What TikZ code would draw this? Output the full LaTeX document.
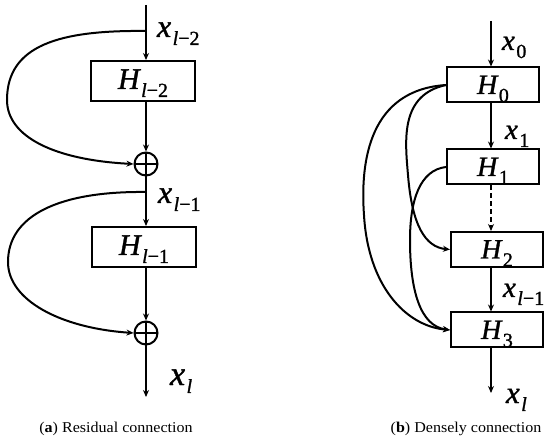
\documentclass[tikz,border=0pt]{standalone}
\usepackage{fontspec}
\setmainfont{Liberation Serif}
\newfontfamily\symfont{Liberation Serif}[FakeBold=1.2]
\usetikzlibrary{arrows.meta}
\newcommand\lab[4]{{\symfont\fontsize{#1}{#1}\selectfont\itshape #2}\kern1.5pt\raisebox{-8pt}{\symfont\fontsize{#3}{#3}\selectfont #4}}
\newcommand\capt[2]{{\fontsize{15}{15}\selectfont\scalebox{1.07}[1]{(\textbf{#1}) #2}}}
\begin{document}
\begin{tikzpicture}[x=1pt,y=-1pt,line width=2pt,
  arr/.style={-{Stealth[length=7pt,width=6pt]}},
  boxL/.style={draw,rectangle,minimum width=104pt,minimum height=40pt,inner sep=0pt,text height=21pt,text depth=5pt},
  boxR/.style={draw,rectangle,minimum width=92pt,minimum height=35pt,inner sep=0pt,text height=19pt,text depth=1pt},
  oplus/.style={draw,circle,minimum size=23pt,inner sep=0pt,
    path picture={\draw (path picture bounding box.north) -- (path picture bounding box.south)
                        (path picture bounding box.west) -- (path picture bounding box.east);}},
  lbl/.style={anchor=base west,inner sep=0pt}]
\useasboundingbox (0,0) rectangle (550,441);
% ---------- left panel ----------
\coordinate (t1) at (146,5);
\coordinate (s1) at (146,31);
\coordinate (s2) at (146,192);
\node[boxL] (h1) at (143,81) {\lab{30}{H}{20}{{\itshape l}−2}};
\node[oplus] (p1) at (146,164) {};
\node[boxL] (h2) at (144,247) {\lab{30}{H}{20}{{\itshape l}−1}};
\node[oplus] (p2) at (146,333) {};
\coordinate (e1) at (146,397);
\draw[arr] (t1) -- (t1 |- h1.north);
\draw[arr] (h1.south -| p1) -- (p1.north);
\draw[arr] (p1.south) -- (p1 |- h2.north);
\draw[arr] (h2.south -| p2) -- (p2.north);
\draw[arr] (p2.south) -- (e1);
\draw[arr] (s1) .. controls (60,30) and (7,45) .. (7,100) .. controls (7,137) and (55,160) .. (p1.west);
\draw[arr] (s2) .. controls (60,191) and (8,215) .. (8,262) .. controls (8,300) and (60,328) .. (p2.west);
\node[lbl] (lx1) at (156,37) {\lab{32}{x}{20}{{\itshape l}−2}};
\node[lbl] (lx2) at (157,203) {\lab{32}{x}{20}{{\itshape l}−1}};
\node[lbl] (lx3) at (169,385) {\lab{34}{x}{20}{\itshape l}};
\node[anchor=base,inner sep=0pt] (ca) at (116,432) {\capt{a}{Residual connection}};
% ---------- right panel ----------
\coordinate (t2) at (491,21);
\node[boxR] (H0) at (493,85) {\lab{28}{H}{20}{0}};
\node[boxR] (H1) at (493,167) {\lab{28}{H}{20}{1}};
\node[boxR] (H2) at (497,249.5) {\lab{28}{H}{20}{2}};
\node[boxR] (H3) at (497,330) {\lab{28}{H}{20}{3}};
\coordinate (e2) at (491,393);
\draw[arr] (t2) -- (t2 |- H0.north);
\draw[arr] (H0.south -| t2) -- (t2 |- H1.north);
\draw[arr,dash pattern=on 5pt off 3pt] (H1.south -| t2) -- (t2 |- H2.north);
\draw[arr] (H2.south -| t2) -- (t2 |- H3.north);
\draw[arr] (H3.south -| t2) -- (e2);
\draw[arr] (H0.west) .. controls (370,90) and (360,160) .. (364,215) .. controls (368,285) and (405,326) .. (H3.west);
\draw[arr] (H0.west) .. controls (400,95) and (405,140) .. (408,175) .. controls (412,225) and (425,247) .. (H2.west);
\draw[arr] (H1.west) .. controls (420,170) and (410,200) .. (410,240) .. controls (410,290) and (420,326) .. (H3.west);
\node[lbl] (rx0) at (501,50) {\lab{29}{x}{20}{0}};
\node[lbl] (rx1) at (504,139) {\lab{29}{x}{20}{1}};
\node[lbl] (rx2) at (502,297) {\lab{29}{x}{20}{{\itshape l}−1}};
\node[lbl] (rx3) at (505,403) {\lab{31}{x}{20}{\itshape l}};
\node[anchor=base,inner sep=0pt] (cb) at (466,432) {\capt{b}{Densely connection}};
\end{tikzpicture}
\end{document}
